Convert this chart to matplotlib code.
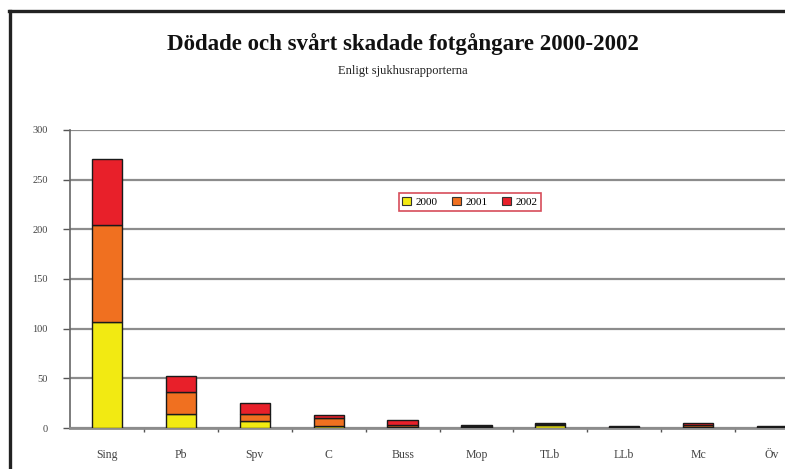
import matplotlib
matplotlib.use("Agg")
import matplotlib.pyplot as plt
from matplotlib.lines import Line2D
from matplotlib.patches import Patch
import numpy as np

categories = ["Sing", "Pb", "Spv", "C", "Buss", "Mop", "TLb", "LLb", "Mc", "Öv"]
years = ["2000", "2001", "2002"]
v2000 = [107, 14, 7, 2, 1, 1, 3, 0, 1, 1]
v2001 = [97, 22, 7, 8, 2, 1, 1, 1, 2, 0]
v2002 = [67, 16, 11, 3, 5, 1, 1, 1, 2, 1]
yticks = [0, 50, 100, 150, 200, 250, 300]

colors = ["#F2EA12", "#F07020", "#E8202A"]
serif = ["Liberation Serif", "DejaVu Serif"]

fig = plt.figure(figsize=(7.85, 4.69), dpi=100)
W, H = 785, 469
ax_left, ax_right = 70, 809
ax_bottom, ax_top = 428, 130
ax = fig.add_axes([ax_left / W, (H - ax_bottom) / H, (ax_right - ax_left) / W, (ax_bottom - ax_top) / H])

x = np.arange(len(categories))
bottom = np.zeros(len(categories))
series = [v2000, v2001, v2002]
for vals, col, yr in zip(series, colors, years):
    ax.bar(x, vals, width=0.41, bottom=bottom, color=col, edgecolor="#1a1a1a", linewidth=1.0, zorder=3, label=yr)
    bottom = bottom + np.array(vals)

ax.set_xlim(-0.5, len(categories) - 0.5)
ax.set_ylim(0, 300)
ax.set_yticks(yticks)
ax.set_yticklabels([str(t) for t in yticks], fontsize=7.5, family=serif, color="#444444")
ax.set_xticks(x)
ax.set_xticklabels(categories, fontsize=8.5, family=serif, color="#444444")
ax.set_xticks(np.arange(len(categories)) + 0.5, minor=True)
ax.tick_params(axis="x", which="major", length=0, pad=15)
ax.tick_params(axis="x", which="minor", length=3, width=1, color="#555555", direction="out")
ax.tick_params(axis="y", which="major", length=5, width=1, color="#555555", direction="out", pad=11)

ax.yaxis.grid(True, color="#8c8c8c", linewidth=1.6, zorder=0)
ax.set_axisbelow(True)
for s in ["top", "right"]:
    ax.spines[s].set_visible(False)
ax.spines["left"].set_color("#666666")
ax.spines["left"].set_linewidth(1.2)
ax.spines["bottom"].set_color("#8c8c8c")
ax.spines["bottom"].set_linewidth(2.0)

handles = [Patch(facecolor=c, edgecolor="#333333", linewidth=0.8) for c in colors]
leg = ax.legend(handles, years, loc="center",
                bbox_to_anchor=((470 - ax_left) / (ax_right - ax_left), (ax_bottom - 202) / (ax_bottom - ax_top)),
                ncol=3, prop={"family": serif, "size": 8}, frameon=True, fancybox=False,
                handlelength=0.8, handleheight=0.8, handletextpad=0.4, columnspacing=1.3, borderpad=0.35)
leg.get_frame().set_edgecolor("#cc2030")
leg.get_frame().set_linewidth(1.2)

fig.text(403 / W, 1 - 44 / H, "Dödade och svårt skadade fotgångare 2000-2002", ha="center", va="center",
         fontsize=16.5, fontweight="bold", family=serif, color="#111111")
fig.text(403 / W, 1 - 71 / H, "Enligt sjukhusrapporterna", ha="center", va="center",
         fontsize=9, family=serif, color="#222222")

# outer frame (top and left visible)
fig.add_artist(Line2D([10 / W, 10 / W], [0, 1 - 11 / H], transform=fig.transFigure, color="#222222", linewidth=2.4))
fig.add_artist(Line2D([9 / W, 1], [1 - 11 / H, 1 - 11 / H], transform=fig.transFigure, color="#222222", linewidth=2.4))

fig.savefig("out.png", dpi=100)
